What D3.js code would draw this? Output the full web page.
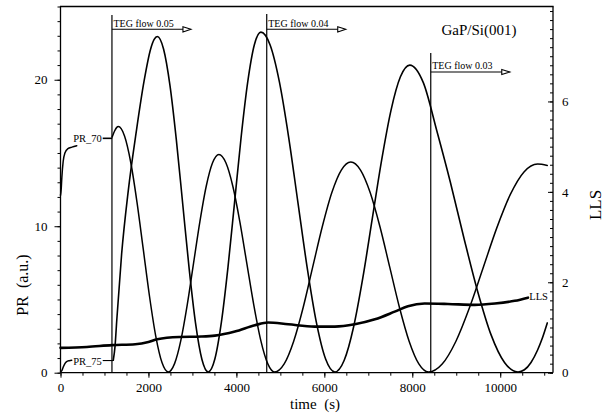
<!DOCTYPE html>
<html>
<head>
<meta charset="utf-8">
<script src="https://cdn.jsdelivr.net/npm/d3@7"></script>
<style>
  html, body { margin: 0; padding: 0; background: #fff; }
  svg { display: block; }
  text { font-family: "Liberation Serif", "DejaVu Serif", serif; fill: #000; }
</style>
</head>
<body>
<svg id="chart" width="613" height="416"></svg>
<script>
// ---- data: time (s) vs. reflectance (PR, left axis) and laser light scattering (LLS, right axis)
const pr70Lead = [[0,12.1],[15,12.5],[30,13.3],[60,14.4],[100,15.0],[170,15.3],[260,15.4],[370,15.5]];
const pr75Lead = [[0,0.05],[30,0.15],[64,0.4],[100,0.62],[140,0.75],[200,0.82],[255,0.85]];

const pr70 = [[1175,16.1],[1230,16.5],[1280,16.75],[1314,16.8],[1456,16.16],[1598,14.35],[1740,11.63],
  [1882,8.43],[2024,5.22],[2166,2.5],[2308,0.69],[2450,0.05],[2594,0.62],[2738,2.22],[2882,4.63],
  [3026,7.48],[3170,10.32],[3314,12.73],[3458,14.33],[3602,14.9],[3761,14.33],[3919,12.73],[4078,10.32],
  [4236,7.48],[4395,4.63],[4553,2.22],[4712,0.62],[4870,0.05],[5087,0.6],[5303,2.15],[5520,4.47],
  [5736,7.22],[5953,9.96],[6169,12.28],[6386,13.83],[6602,14.38],[6823,13.83],[7044,12.28],[7265,9.96],
  [7486,7.22],[7707,4.47],[7928,2.15],[8149,0.6],[8370,0.05],[8680,0.59],[8990,2.13],[9300,4.43],
  [9610,7.15],[9920,9.87],[10230,12.17],[10540,13.71],[10850,14.25],[11070,14.15]];

const pr75 = [[1200,0.85],[1240,1.8],[1280,3.6],[1390,8.1],[1540,12.4],[1730,16.6],[1900,19.9],
  [2050,22.1],[2130,22.75],[2200,22.95],[2345,22.08],[2490,19.6],[2635,15.88],[2780,11.5],[2925,7.12],
  [3070,3.4],[3215,0.92],[3360,0.05],[3510,0.93],[3659,3.45],[3809,7.21],[3959,11.65],[4108,16.09],
  [4258,19.85],[4407,22.37],[4557,23.25],[4767,22.37],[4978,19.85],[5188,16.09],[5398,11.65],
  [5608,7.21],[5818,3.45],[6029,0.93],[6239,0.05],[6452,0.85],[6665,3.12],[6878,6.52],[7091,10.53],
  [7304,14.53],[7517,17.93],[7730,20.2],[7943,21.0],[8251,19.8],[8559,16.5],[8866,13.0],[9174,9.2],
  [9482,5.6],[9790,2.6],[10097,0.7],[10405,0.05],[10550,0.2],[10700,0.7],[10850,1.55],[10950,2.3],
  [11070,3.4]];

const lls = [[0,0.55],[600,0.57],[1170,0.61],[1700,0.63],[2000,0.68],[2200,0.74],[2700,0.79],
  [3200,0.8],[3510,0.82],[3966,0.91],[4420,1.05],[4720,1.11],[5180,1.07],[5780,1.02],[6240,1.02],
  [6690,1.07],[7150,1.18],[7600,1.35],[7900,1.47],[8280,1.53],[8810,1.52],[9420,1.5],[9880,1.53],
  [10330,1.59],[10630,1.66]];

// TEG flow switch times and their labels
const flowTimes = [1170, 4690, 8420];
const flowLabels = ["TEG flow 0.05", "TEG flow 0.04", "TEG flow 0.03"];

// axis ticks
const xMajor = [0, 2000, 4000, 6000, 8000, 10000];
const yLeftMajor = [0, 10, 20];
const yRightMajor = [0, 2, 4, 6];

// ---- layout
const svg = d3.select("#chart");
const L = 60.5, R = 553, T = 6.5, B = 372.7;
const x = d3.scaleLinear().domain([0, 11200]).range([L, R]);
const yL = d3.scaleLinear().domain([0, 25]).range([B, T]);
const yR = d3.scaleLinear().domain([0, 8.1]).range([B, T]);

const serif = '"Liberation Serif", "DejaVu Serif", serif';

// x axis: minor ticks every 500 s, labelled every 2000 s
const gx = svg.append("g").attr("transform", `translate(0,${B})`);
gx.call(d3.axisBottom(x).tickValues(d3.range(0, 11001, 500)).tickSize(3).tickFormat(""));
const gx2 = svg.append("g").attr("transform", `translate(0,${B})`);
gx2.call(d3.axisBottom(x).tickValues(xMajor).tickSize(5).tickPadding(5).tickFormat(d3.format("d")));

// left axis
const gl = svg.append("g").attr("transform", `translate(${L},0)`);
gl.call(d3.axisLeft(yL).tickValues(d3.range(0, 25.01, 1)).tickSize(3).tickFormat(""));
const gl2 = svg.append("g").attr("transform", `translate(${L},0)`);
gl2.call(d3.axisLeft(yL).tickValues(yLeftMajor).tickSize(6).tickPadding(7).tickFormat(d3.format("d")));

// right axis (ticks point inward)
const gr = svg.append("g").attr("transform", `translate(${R},0)`);
gr.call(d3.axisRight(yR).tickValues(d3.range(0, 41).map(i => i * 0.2).filter(v => v <= 8.05)).tickSize(-3).tickFormat(""));
const gr2 = svg.append("g").attr("transform", `translate(${R},0)`);
gr2.call(d3.axisRight(yR).tickValues(yRightMajor).tickSize(-5).tickPadding(9).tickFormat(d3.format("d")));

[gx, gx2, gl, gl2, gr, gr2].forEach(g => g.attr("font-family", serif).attr("font-size", 13));
svg.selectAll(".domain").remove();
svg.selectAll(".tick line").attr("stroke", "#000").attr("stroke-width", 1);
svg.selectAll(".tick text").attr("fill", "#000").style("font-size", "13px").style("font-family", serif);

// frame
const frame = svg.append("g").attr("stroke", "#000").attr("fill", "none");
frame.append("line").attr("x1", L).attr("x2", L).attr("y1", T).attr("y2", B).attr("stroke-width", 1.3);
frame.append("line").attr("x1", R).attr("x2", R).attr("y1", T).attr("y2", B).attr("stroke-width", 1.3);
frame.append("line").attr("x1", L).attr("x2", R).attr("y1", B).attr("y2", B).attr("stroke-width", 1.3);
frame.append("line").attr("x1", L - 0.6).attr("x2", R + 0.6).attr("y1", T).attr("y2", T).attr("stroke-width", 1.6);

// TEG flow markers: vertical line + arrow with label
const markerTop = [15, 14, 53];
const arrowY = [29.3, 29.3, 72];
const markers = svg.append("g");
flowTimes.forEach((t, i) => {
  const px = x(t);
  markers.append("line").attr("x1", px).attr("x2", px).attr("y1", markerTop[i]).attr("y2", B)
    .attr("stroke", "#000").attr("stroke-width", 1.2);
  markers.append("line").attr("x1", px).attr("x2", px + 72).attr("y1", arrowY[i]).attr("y2", arrowY[i])
    .attr("stroke", "#000").attr("stroke-width", 1.1);
  markers.append("path")
    .attr("d", `M${px + 71},${arrowY[i] - 2.6} L${px + 79},${arrowY[i]} L${px + 71},${arrowY[i] + 2.6} Z`)
    .attr("fill", "#fff").attr("stroke", "#000").attr("stroke-width", 1.1);
  markers.append("text").attr("x", px + 1.5).attr("y", arrowY[i] - 2.6)
    .style("font-size", "10px").text(flowLabels[i]);
});

// curves
const lineL = d3.line().x(d => x(d[0])).y(d => yL(d[1])).curve(d3.curveMonotoneX);
const lineR = d3.line().x(d => x(d[0])).y(d => yR(d[1])).curve(d3.curveMonotoneX);
const curves = svg.append("g").attr("fill", "none").attr("stroke", "#000")
  .attr("stroke-linejoin", "round").attr("stroke-linecap", "round");
[pr70Lead, pr75Lead].forEach(d => curves.append("path").attr("d", lineL(d)).attr("stroke-width", 1.5));
curves.append("path").attr("d", lineL(pr70)).attr("stroke-width", 1.5);
curves.append("path").attr("d", lineL(pr75)).attr("stroke-width", 1.6);
curves.append("path").attr("d", lineR(lls)).attr("stroke-width", 2.6);

// curve labels with leaders to the first flow marker
const lbl = svg.append("g").style("font-size", "10.5px");
lbl.append("text").attr("x", x(290)).attr("y", yL(15.75)).text("PR_70");
lbl.append("text").attr("x", x(290)).attr("y", yL(0.55)).text("PR_75");
svg.append("line").attr("x1", x(960)).attr("x2", x(1175)).attr("y1", yL(16.0)).attr("y2", yL(16.0))
  .attr("stroke", "#000").attr("stroke-width", 1.6);
svg.append("line").attr("x1", x(960)).attr("x2", x(1200)).attr("y1", yL(0.83)).attr("y2", yL(0.83))
  .attr("stroke", "#000").attr("stroke-width", 1.1);
lbl.append("text").attr("x", x(10660)).attr("y", yR(1.6)).text("LLS");

// titles
svg.append("text").attr("x", 441.5).attr("y", 35).style("font-size", "15px").text("GaP/Si(001)");
svg.append("text").attr("x", 315).attr("y", 409).attr("text-anchor", "middle")
  .style("font-size", "15px").attr("xml:space", "preserve").text("time  (s)");
svg.append("text").attr("transform", "translate(28,285) rotate(-90)").attr("text-anchor", "middle")
  .style("font-size", "16px").attr("xml:space", "preserve").text("PR  (a.u.)");
svg.append("text").attr("transform", "translate(601,205) rotate(-90)").attr("text-anchor", "middle")
  .style("font-size", "17px").text("LLS");
</script>
</body>
</html>
